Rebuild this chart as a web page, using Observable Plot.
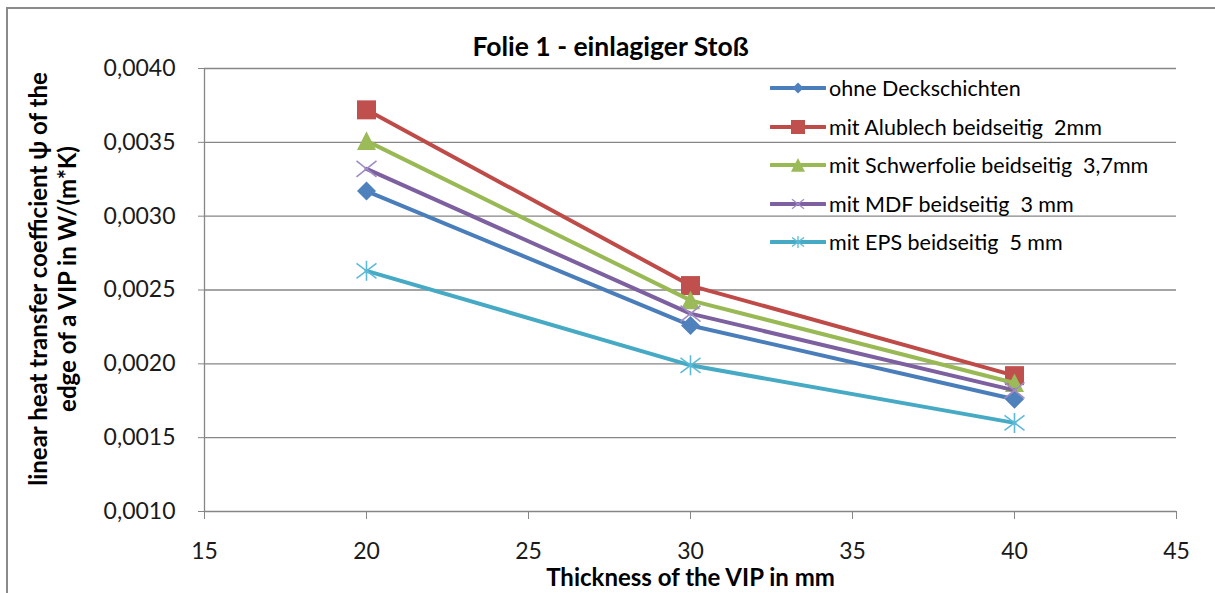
<!DOCTYPE html>
<html><head><meta charset="utf-8">
<script src="https://cdn.jsdelivr.net/npm/d3@7"></script>
<script src="https://cdn.jsdelivr.net/npm/@observablehq/plot@0.6"></script>
<style>
html,body{margin:0;padding:0;background:#fff;overflow:hidden;}
#wrap{position:relative;width:1215px;height:593px;overflow:hidden;font-family:Lato,"Open Sans",sans-serif;}
#frame{position:absolute;left:6px;top:7px;width:1300px;height:700px;border-left:2px solid #8a8a8a;border-top:2px solid #8a8a8a;pointer-events:none;box-sizing:border-box}
#legend{position:absolute;left:770px;top:69px;}
.row{display:flex;align-items:center;height:38.5px;font-size:21.5px;color:#000;white-space:pre}
.row svg{margin-right:3px;display:block}
</style></head>
<body><div id="wrap"><div id="chart"></div><div id="legend"></div><div id="frame"></div></div>
<script>
// ---- data ----
const chartTitle = "Folie 1 - einlagiger Stoß";
const xTitle = "Thickness of the VIP in mm";
const yTitle = "linear heat transfer coefficient ψ of the\nedge of a VIP in W/(m*K)";
const thickness = [20, 30, 40];
const seriesNames = [
  "ohne Deckschichten",
  "mit Alublech beidseitig  2mm",
  "mit Schwerfolie beidseitig  3,7mm",
  "mit MDF beidseitig  3 mm",
  "mit EPS beidseitig  5 mm"
];
const ohneDeckschichten = [0.00317, 0.00226, 0.00176];
const mitAlublech = [0.00372, 0.00253, 0.00192];
const mitSchwerfolie = [0.00351, 0.00243, 0.00187];
const mitMDF = [0.00332, 0.00234, 0.00182];
const mitEPS = [0.00263, 0.00199, 0.00160];
const xTicks = [15, 20, 25, 30, 35, 40, 45];
const xTickLabels = ["15", "20", "25", "30", "35", "40", "45"];
const yTicks = [0.0010, 0.0015, 0.0020, 0.0025, 0.0030, 0.0035, 0.0040];
const yTickLabels = ["0,0010", "0,0015", "0,0020", "0,0025", "0,0030", "0,0035", "0,0040"];

// ---- styles ----
const seriesValues = [ohneDeckschichten, mitAlublech, mitSchwerfolie, mitMDF, mitEPS];
const lineColors = ["#4A7EBB", "#BE4B48", "#98B954", "#7D60A0", "#46AAC5"];
const markerColors = ["#4F81BD", "#C0504D", "#9BBB59", "#A08CC4", "#5CBAD6"];
const markerKinds = ["diamond", "square", "triangle", "times", "star"];
const filledKinds = {diamond: true, square: true, triangle: true, times: false, star: false};

function sym(kind) {
  return {
    draw(ctx, size) {
      const r = Math.sqrt(size / Math.PI);
      if (kind === "diamond") {
        ctx.moveTo(0, -r); ctx.lineTo(r, 0); ctx.lineTo(0, r); ctx.lineTo(-r, 0); ctx.closePath();
      } else if (kind === "square") {
        ctx.rect(-r, -r, 2 * r, 2 * r);
      } else if (kind === "triangle") {
        ctx.moveTo(0, -r); ctx.lineTo(r, r * 0.95); ctx.lineTo(-r, r * 0.95); ctx.closePath();
      } else if (kind === "times") {
        ctx.moveTo(-r, -r * 0.8); ctx.lineTo(r, r * 0.8);
        ctx.moveTo(-r, r * 0.8); ctx.lineTo(r, -r * 0.8);
      } else if (kind === "star") {
        ctx.moveTo(0, -r); ctx.lineTo(0, r);
        ctx.moveTo(-r, -r * 0.75); ctx.lineTo(r, r * 0.75);
        ctx.moveTo(-r, r * 0.75); ctx.lineTo(r, -r * 0.75);
      }
    }
  };
}
const markerSizes = {diamond: 9.5, square: 9.5, triangle: 9.5, times: 10, star: 10};

const rows = seriesNames.flatMap((name, si) =>
  thickness.map((t, i) => ({series: name, si, thickness: t, value: seriesValues[si][i]})));

const seriesMarks = seriesNames.flatMap((name, si) => {
  const kind = markerKinds[si];
  const filled = filledKinds[kind];
  const data = rows.filter(d => d.si === si);
  return [
    Plot.line(data, {x: "thickness", y: "value", stroke: lineColors[si], strokeWidth: 4, strokeLinejoin: "round"}),
    Plot.dot(data, {x: "thickness", y: "value", symbol: sym(kind), r: markerSizes[kind],
      fill: filled ? markerColors[si] : "none",
      stroke: filled ? "none" : markerColors[si],
      strokeWidth: filled ? 0 : 1.6})
  ];
});

const chart = Plot.plot({
  width: 1215,
  height: 593,
  marginLeft: 204,
  marginRight: 39,
  marginTop: 68,
  marginBottom: 82,
  style: {fontFamily: "Lato, 'Open Sans', sans-serif", fontSize: "23px", background: "transparent", color: "#1a1a1a"},
  x: {domain: [xTicks[0], xTicks[xTicks.length - 1]]},
  y: {domain: [yTicks[0], yTicks[yTicks.length - 1]]},
  marks: [
    Plot.gridY(yTicks, {stroke: "#868686", strokeOpacity: 1, strokeWidth: 1.3}),
    Plot.ruleX([xTicks[0]], {stroke: "#868686", strokeWidth: 1.3}),
    Plot.axisY(yTicks, {tickSize: 6, tickPadding: 23, stroke: "#868686", fill: "#1a1a1a",
      tickFormat: d => yTickLabels[yTicks.indexOf(d)], label: null, fontSize: 23}),
    Plot.axisX(xTicks, {tickSize: 8, tickPadding: 23, stroke: "#868686", fill: "#1a1a1a",
      tickFormat: d => xTickLabels[xTicks.indexOf(d)], label: null, fontSize: 23}),
    ...seriesMarks,
    Plot.text([chartTitle], {frameAnchor: "top", dy: -21, dx: -80, lineAnchor: "middle", textAnchor: "middle",
      fontWeight: "bold", fontSize: 26.5, fill: "#000"}),
    Plot.text([xTitle], {frameAnchor: "bottom", dy: 67, lineAnchor: "middle", textAnchor: "middle",
      fontWeight: "bold", fontSize: 24, fill: "#000"}),
    Plot.text([yTitle], {frameAnchor: "left", rotate: -90, dx: -152, dy: -11, lineAnchor: "middle", textAnchor: "middle",
      fontWeight: "bold", fontSize: 24, lineHeight: 1.18, fill: "#000"})
  ]
});
document.getElementById("chart").appendChild(chart);

// ---- legend ----
const legend = document.getElementById("legend");
const NS = "http://www.w3.org/2000/svg";
const legendSizes = {diamond: 5.5, square: 7, triangle: 7, times: 6, star: 6};
seriesNames.forEach((name, si) => {
  const kind = markerKinds[si];
  const row = document.createElement("div");
  row.className = "row";
  const svg = document.createElementNS(NS, "svg");
  svg.setAttribute("width", 56); svg.setAttribute("height", 20);
  const ln = document.createElementNS(NS, "line");
  ln.setAttribute("x1", 1); ln.setAttribute("x2", 55); ln.setAttribute("y1", 10); ln.setAttribute("y2", 10);
  ln.setAttribute("stroke", lineColors[si]); ln.setAttribute("stroke-width", 4); ln.setAttribute("stroke-linecap", "round");
  svg.appendChild(ln);
  const p = d3.path();
  const r = legendSizes[kind];
  sym(kind).draw(p, Math.PI * r * r);
  const path = document.createElementNS(NS, "path");
  path.setAttribute("d", p.toString());
  path.setAttribute("transform", "translate(28,10)");
  if (filledKinds[kind]) { path.setAttribute("fill", markerColors[si]); }
  else { path.setAttribute("fill", "none"); path.setAttribute("stroke", markerColors[si]); path.setAttribute("stroke-width", 1.3); }
  svg.appendChild(path);
  row.appendChild(svg);
  const span = document.createElement("span");
  span.textContent = name;
  row.appendChild(span);
  legend.appendChild(row);
});
</script></body></html>
